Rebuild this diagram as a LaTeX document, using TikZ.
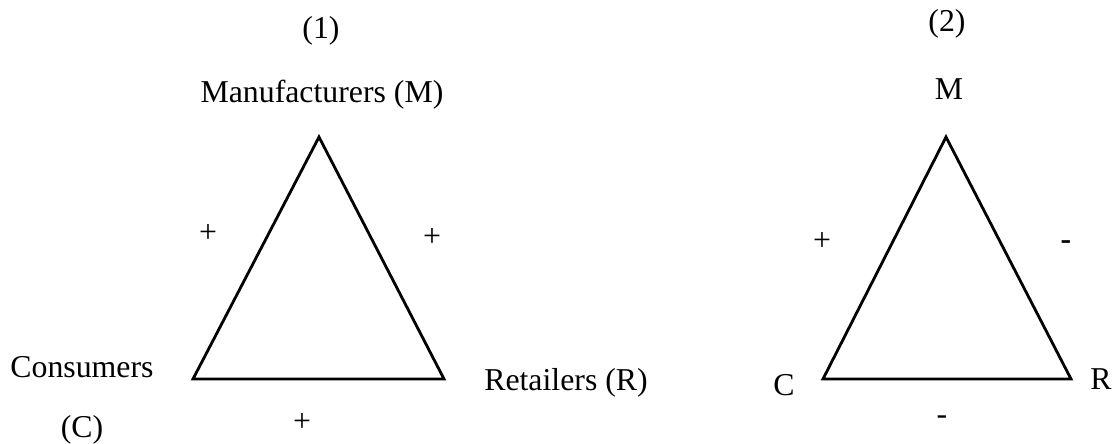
\documentclass[tikz,border=0pt]{standalone}
\usepackage{fontspec}
\setmainfont{Liberation Serif}
\begin{document}
\begin{tikzpicture}[x=1pt,y=-1pt,
  lbl/.style={inner sep=0pt,outer sep=0pt,anchor=base,font=\fontsize{31.8}{38}\selectfont},
  sgn/.style={inner sep=0pt,outer sep=0pt,anchor=center,font=\fontsize{31.8}{38}\selectfont},
  tri/.style={line width=2.8pt,line join=miter}]
\useasboundingbox (0,0) rectangle (1113,444);
% diagram (1)
\coordinate (M1) at (319,137);
\coordinate (C1) at (193,379);
\coordinate (R1) at (444,379);
\draw[tri] (M1) -- (C1) -- (R1) -- cycle;
\node[lbl] (t1) at (321,39) {(1)};
\node[lbl] (m1) at (322,102) {Manufacturers (M)};
\node[lbl] (c1a) at (82,377) {Consumers};
\node[lbl] (c1b) at (82,437) {(C)};
\node[lbl] (r1) at (566,390) {Retailers (R)};
\node[sgn] (p1) at (208,234) {+};
\node[sgn] (p2) at (432,238) {+};
\node[sgn] (p3) at (302,423) {+};
% diagram (2)
\coordinate (M2) at (946,137);
\coordinate (C2) at (823,379);
\coordinate (R2) at (1071,379);
\draw[tri] (M2) -- (C2) -- (R2) -- cycle;
\node[lbl] (t2) at (947,32) {(2)};
\node[lbl] (m2) at (949,99) {M};
\node[lbl] (c2) at (784,395) {C};
\node[lbl] (r2) at (1101,389) {R};
\node[sgn] (p4) at (822,242) {+};
\node[lbl] (n1) at (1066,249) {\bfseries -};
\node[lbl] (n2) at (942,424) {-};
\end{tikzpicture}
\end{document}
